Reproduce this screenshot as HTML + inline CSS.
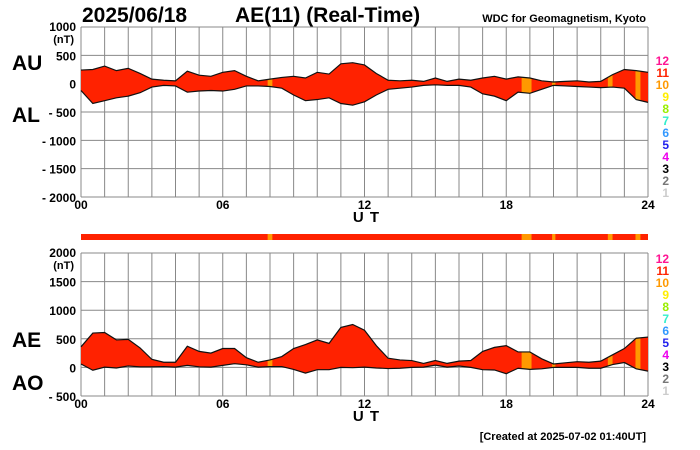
<!DOCTYPE html>
<html><head><meta charset="utf-8"><style>
html,body{margin:0;padding:0;background:#fff;}
svg{display:block;font-family:"Liberation Sans",Arial,sans-serif;}
</style></head><body>
<svg id="c" width="700" height="450" viewBox="0 0 700 450" xmlns="http://www.w3.org/2000/svg">
<text x="82" y="22" font-size="21" font-weight="bold">2025/06/18</text>
<text x="235" y="22" font-size="21" font-weight="bold">AE(11) (Real-Time)</text>
<text x="646" y="22" font-size="11" font-weight="bold" text-anchor="end">WDC for Geomagnetism, Kyoto</text>
<text x="646" y="440" font-size="11" font-weight="bold" text-anchor="end">[Created at 2025-07-02 01:40UT]</text>
<text x="12" y="70" font-size="21" font-weight="bold">AU</text>
<text x="12" y="122" font-size="21" font-weight="bold">AL</text>
<text x="12" y="347" font-size="21" font-weight="bold">AE</text>
<text x="12" y="390" font-size="21" font-weight="bold">AO</text>
<g id="top"></g>
<g id="bar"></g>
<g id="bot"></g>
</svg>
<script>
const hours = [0,0.5,1,1.5,2,2.5,3,3.5,4,4.5,5,5.5,6,6.5,7,7.5,8,8.5,9,9.5,10,10.5,11,11.5,12,12.5,13,13.5,14,14.5,15,15.5,16,16.5,17,17.5,18,18.5,19,19.5,20,20.5,21,21.5,22,22.5,23,23.5,24];
const auValues = [240,250,310,230,270,180,80,60,50,220,150,130,200,230,130,50,80,110,130,100,200,170,350,370,330,180,60,50,60,40,100,40,80,60,100,130,80,120,100,50,30,40,50,30,40,160,250,230,200];
const alValues = [-120,-350,-300,-250,-220,-160,-60,-30,-40,-150,-130,-120,-130,-100,-40,-40,-50,-80,-200,-300,-280,-250,-350,-380,-320,-200,-100,-80,-60,-30,-20,-30,-30,-60,-180,-220,-300,-150,-170,-100,-30,-40,-50,-60,-70,-60,-80,-280,-330];
const orangeSpans = [[7.9,8.1],[18.65,19.07],[19.94,20.08],[22.3,22.5],[23.47,23.68]];
const topTicks = [1000,500,0,-500,-1000,-1500,-2000];
const botTicks = [2000,1500,1000,500,0,-500];
const xTickLabels = ["00","06","12","18","24"];
const legendLabels = ["12","11","10","9","8","7","6","5","4","3","2","1"];
const legendColors = ["#ff1493","#ff2200","#ff9900","#ffee00","#99ee00","#33eecc","#3399ff","#2222ee","#ee00ee","#000","#777","#ccc"];

const NS="http://www.w3.org/2000/svg";
const X0=81,X1=648;
const RED="#ff2200",ORANGE="#ff9900";
function xs(h){return X0+(X1-X0)*h/24;}
function mk(tag,attrs,parent){const e=document.createElementNS(NS,tag);for(const k in attrs)e.setAttribute(k,attrs[k]);parent.appendChild(e);return e;}

function panel(g,yTop,yBot,vMax,vMin,ticks,upper,lower,id,legTop){
  const ys=v=>yTop+(vMax-v)*(yBot-yTop)/(vMax-vMin);
  for(let h=0;h<=24;h++){
    const l=mk('line',{x1:xs(h),x2:xs(h),y1:yTop,y2:yBot,stroke:'#888','stroke-width':1},g);
    
    
  }
  ticks.forEach((v,i)=>{
    const l=mk('line',{x1:X0,x2:X1,y1:ys(v),y2:ys(v),stroke:'#888','stroke-width':1},g);
    
    
    const lab=(v<0?'- '+(-v):String(v));
    const t=mk('text',{x:76,y:ys(v)+(i==0?4:5),'font-size':12,'font-weight':'bold','text-anchor':'end'},g);
    t.textContent=lab;
    
    
  });
  const nt=mk('text',{x:74,y:ys(vMax)+16,'font-size':11,'font-weight':'bold','text-anchor':'end'},g);
  nt.textContent='(nT)';
  
  
  const pts=hours.map((h,i)=>xs(h)+','+ys(upper[i]));
  const ptsL=hours.map((h,i)=>xs(h)+','+ys(lower[i])).reverse();
  const poly=pts.concat(ptsL).join(' ');
  const cp=mk('clipPath',{id:'clip'+id},g);
  mk('polygon',{points:poly},cp);
  const f=mk('polygon',{points:poly,fill:RED},g);
  
  
  orangeSpans.forEach(s=>{
    const r=mk('rect',{x:xs(s[0]),y:yTop,width:xs(s[1])-xs(s[0]),height:yBot-yTop,fill:ORANGE,'clip-path':'url(#clip'+id+')'},g);
    
    
  });
  const lu=mk('polyline',{points:pts.join(' '),fill:'none',stroke:'#111','stroke-width':1.2},g);
  
  
  const ll=mk('polyline',{points:ptsL.join(' '),fill:'none',stroke:'#111','stroke-width':1.2},g);
  
  
  xTickLabels.forEach((s,i)=>{
    const t=mk('text',{x:xs(i*6),y:yBot+12,'font-size':12,'font-weight':'bold','text-anchor':'middle'},g);
    t.textContent=s;
    
    
  });
  const ut=mk('text',{x:xs(12)+2,y:yBot+25,'font-size':15,'font-weight':'bold','text-anchor':'middle','letter-spacing':'1'},g);
  ut.textContent='U T';
  
  
  legendLabels.forEach((s,i)=>{
    const t=mk('text',{x:669,y:legTop+i*12,'font-size':12,'font-weight':'bold','text-anchor':'end',fill:legendColors[i]},g);
    t.textContent=s;
    
    
  });
}
const topG=document.getElementById('top');
panel(topG,27,197,1000,-2000,topTicks,auValues,alValues,'t',65);
const aeValues=auValues.map((u,i)=>u-alValues[i]);
const aoValues=auValues.map((u,i)=>(u+alValues[i])/2);
const botG=document.getElementById('bot');
panel(botG,253,396,2000,-500,botTicks,aeValues,aoValues,'b',263);
const barG=document.getElementById('bar');
const br=mk('rect',{x:X0,y:234,width:X1-X0,height:6,fill:RED},barG);


orangeSpans.forEach(s=>{
  const r=mk('rect',{x:xs(s[0]),y:234,width:xs(s[1])-xs(s[0]),height:6,fill:ORANGE},barG);
  
  
});
</script>
</body></html>
